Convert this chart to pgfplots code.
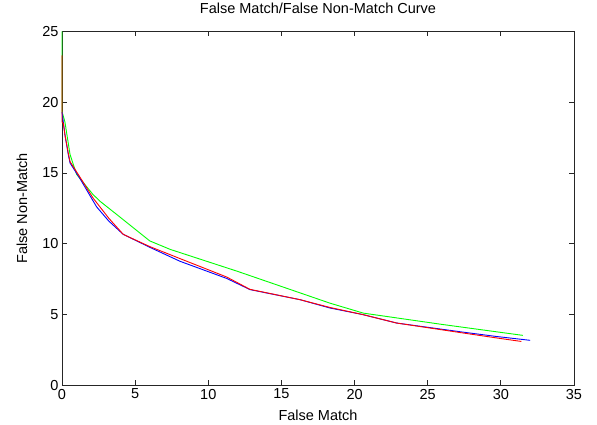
\documentclass[border=0pt]{standalone}
\usepackage{fontspec}
\setmainfont{Liberation Sans}
\usepackage{pgfplots}
\pgfplotsset{compat=1.18}

\begin{document}
\begin{tikzpicture}[font=\fontsize{14.5}{17}\selectfont]
\begin{axis}[
  name=ax,
  scale only axis,
  width=512pt, height=354pt,
  xmin=0, xmax=35, ymin=0, ymax=25,
  xtick={0,5,...,35}, ytick={0,5,...,25},
  /pgf/number format/assume math mode=true,
  tick align=inside,
  major tick length=5pt,
  axis line style={line width=0.8pt, black!85},
  every tick/.style={black!85, line width=0.8pt},
  title={False Match/False Non-Match Curve},
  title style={at={(axis description cs:0.5,1.0325)}, anchor=base},
  xlabel={False Match},
  xlabel style={at={(axis description cs:0.5,-0.099)}, anchor=base},
  ylabel={False Non-Match},
  ylabel style={at={(axis description cs:-0.068,0.5)}, anchor=base, rotate=0},
  clip=false,
]
% green
\addplot[green, line width=0.9pt] coordinates {
  (0,25) (0,19.35) (0.2,18.6) (0.55,16.3) (1.0,14.9) (2.1,13.5) (2.6,13.0)
  (3.7,12.1) (6.0,10.2) (7.4,9.6) (12.0,8.05) (18.3,5.81)
  (20.6,5.1) (26.0,4.3) (31.5,3.53)
};
% blue
\addplot[blue, line width=0.9pt] coordinates {
  (0,19.3) (0.09,18.6) (0.2,17.7) (0.43,16.3) (0.55,15.7) (1.23,14.6)
  (2.14,13.0) (2.37,12.6) (3.2,11.6) (4.19,10.66) (6.0,9.75) (8.07,8.76)
  (11.26,7.55) (12.85,6.76) (16.27,6.05) (18.32,5.46) (20.6,4.99)
  (22.88,4.4) (27.4,3.76) (29.7,3.45) (32.0,3.18)
};
% red
\addplot[red, line width=0.9pt] coordinates {
  (0,23.3) (0,18.6) (0.09,18.5) (0.2,17.7) (0.43,16.4) (0.55,15.8) (1.23,14.7)
  (2.14,13.2) (2.37,12.9) (3.2,11.8) (4.19,10.66) (6.0,9.8) (8.07,8.95)
  (11.26,7.65) (12.85,6.78) (16.27,6.05) (18.32,5.5) (20.6,4.99)
  (22.88,4.4) (27.4,3.7) (29.7,3.35) (31.4,3.1)
};
\end{axis}
\path (ax.south west) ++(-62pt,-39pt) rectangle ++(597pt,423pt);
\end{tikzpicture}
\end{document}
